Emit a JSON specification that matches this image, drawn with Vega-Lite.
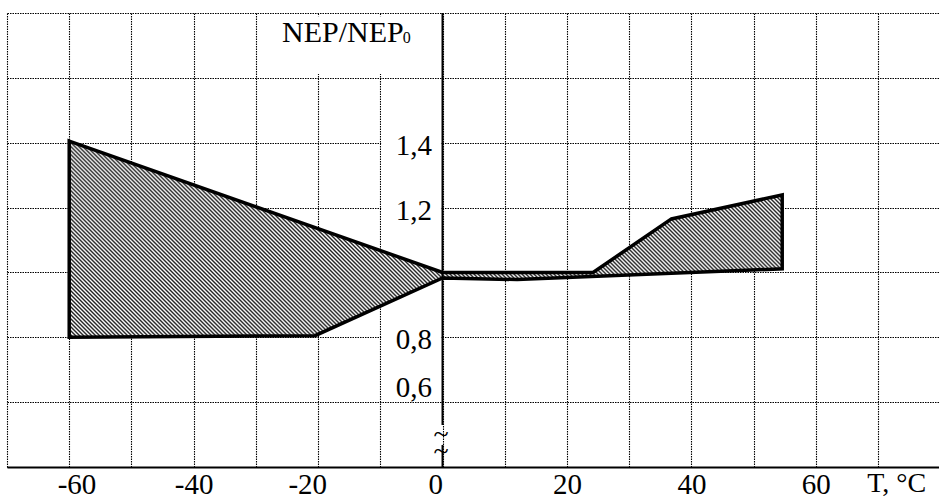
{
  "$schema": "https://vega.github.io/schema/vega-lite/v6.json",
  "width": 932,
  "height": 454,
  "autosize": {"type": "none"},
  "padding": {"left": 7, "top": 13, "right": 0, "bottom": 33},
  "background": "white",
  "config": {"view": {"stroke": null}, "font": "Liberation Serif"},
  "layer": [
    {
      "data": {"values": [{"T": -60, "R": 1.405, "i": 0}, {"T": 0, "R": 1.0, "i": 1}, {"T": 24.2, "R": 1.0, "i": 2}, {"T": 36.8, "R": 1.165, "i": 3}, {"T": 54.6, "R": 1.239, "i": 4}, {"T": 54.6, "R": 1.011, "i": 5}, {"T": 12, "R": 0.978, "i": 6}, {"T": 0, "R": 0.983, "i": 7}, {"T": -20.5, "R": 0.805, "i": 8}, {"T": -60, "R": 0.8, "i": 9}]},
      "mark": {"type": "point", "opacity": 0},
      "encoding": {
        "x": {
          "field": "T", "type": "quantitative",
          "scale": {"domain": [-70, 79.8], "nice": false, "zero": false},
          "axis": {
            "title": null,
            "values": [-70, -60, -50, -40, -30, -20, -10, 0, 10, 20, 30, 40, 50, 60, 70],
            "grid": true, "gridColor": "#000", "gridDash": [1.5, 1], "gridWidth": 1.1, "gridOpacity": 1,
            "ticks": false, "tickSize": 0,
            "domain": true, "domainColor": "#000", "domainWidth": 2,
            "labelExpr": "datum.value == -60 ? '\u200b\u00a0\u00a0-60' : datum.value == -40 ? '-40' : datum.value == -20 ? '-20\u00a0\u00a0\u00a0\u200b' : datum.value == 0 ? '0\u00a0\u00a0\u200b' : (datum.value == 20 || datum.value == 40 || datum.value == 60) ? toString(datum.value) : ''",
            "labelFont": "Liberation Serif", "labelFontSize": 29, "labelColor": "#000",
            "labelBaseline": "alphabetic", "labelPadding": 26, "labelFlush": false, "labelOverlap": false, "labelBound": false
          }
        },
        "y": {
          "field": "R", "type": "quantitative",
          "scale": {"domain": [0.4, 1.8], "nice": false, "zero": false},
          "axis": {
            "title": null,
            "values": [0.4, 0.6, 0.8, 1.0, 1.2, 1.4, 1.6, 1.8],
            "grid": true, "gridColor": "#000", "gridDash": [1.5, 1], "gridWidth": 1.1, "gridOpacity": 1,
            "labels": false, "ticks": false, "domain": false
          }
        }
      }
    },
    {
      "data": {"values": [{}]},
      "mark": {"type": "rect", "fill": "white", "stroke": null},
      "encoding": {"x": {"datum": -9.85}, "x2": {"datum": -0.25}, "y": {"datum": 0.62}, "y2": {"datum": 1.58}}
    },
    {
      "data": {"values": [{}]},
      "mark": {"type": "rect", "fill": "white", "stroke": null},
      "encoding": {"x": {"datum": -26.5}, "x2": {"datum": -0.25}, "y": {"datum": 1.612}, "y2": {"datum": 1.79}}
    },
    {
      "data": {"values": [{"T": -60, "R": 1.405, "i": 0}, {"T": 0, "R": 1.0, "i": 1}, {"T": 24.2, "R": 1.0, "i": 2}, {"T": 36.8, "R": 1.165, "i": 3}, {"T": 54.6, "R": 1.239, "i": 4}, {"T": 54.6, "R": 1.011, "i": 5}, {"T": 12, "R": 0.978, "i": 6}, {"T": 0, "R": 0.983, "i": 7}, {"T": -20.5, "R": 0.805, "i": 8}, {"T": -60, "R": 0.8, "i": 9}]},
      "mark": {
        "type": "line", "interpolate": "linear-closed", "stroke": "#000", "strokeWidth": 3.5, "strokeJoin": "miter",
        "fill": {
          "gradient": "linear", "x1": 0, "y1": 1, "x2": 1.1852, "y2": 0.6747,
          "stops": [
            {"offset": 0, "color": "#222"}, {"offset": 0.0022, "color": "#fff"}, {"offset": 0.0044, "color": "#222"}, {"offset": 0.0066, "color": "#fff"}, {"offset": 0.0088, "color": "#222"}, {"offset": 0.011, "color": "#fff"}, {"offset": 0.0132, "color": "#222"}, {"offset": 0.0154, "color": "#fff"}, {"offset": 0.0176, "color": "#222"}, {"offset": 0.0198, "color": "#fff"},
            {"offset": 0.022, "color": "#222"}, {"offset": 0.0242, "color": "#fff"}, {"offset": 0.0264, "color": "#222"}, {"offset": 0.0286, "color": "#fff"}, {"offset": 0.0308, "color": "#222"}, {"offset": 0.033, "color": "#fff"}, {"offset": 0.0352, "color": "#222"}, {"offset": 0.0374, "color": "#fff"}, {"offset": 0.0396, "color": "#222"}, {"offset": 0.0418, "color": "#fff"},
            {"offset": 0.044, "color": "#222"}, {"offset": 0.0462, "color": "#fff"}, {"offset": 0.0484, "color": "#222"}, {"offset": 0.0506, "color": "#fff"}, {"offset": 0.0528, "color": "#222"}, {"offset": 0.055, "color": "#fff"}, {"offset": 0.0572, "color": "#222"}, {"offset": 0.0594, "color": "#fff"}, {"offset": 0.0616, "color": "#222"}, {"offset": 0.0638, "color": "#fff"},
            {"offset": 0.066, "color": "#222"}, {"offset": 0.0682, "color": "#fff"}, {"offset": 0.0704, "color": "#222"}, {"offset": 0.0726, "color": "#fff"}, {"offset": 0.0748, "color": "#222"}, {"offset": 0.077, "color": "#fff"}, {"offset": 0.0792, "color": "#222"}, {"offset": 0.0814, "color": "#fff"}, {"offset": 0.0836, "color": "#222"}, {"offset": 0.0858, "color": "#fff"},
            {"offset": 0.088, "color": "#222"}, {"offset": 0.0902, "color": "#fff"}, {"offset": 0.0924, "color": "#222"}, {"offset": 0.0946, "color": "#fff"}, {"offset": 0.0968, "color": "#222"}, {"offset": 0.099, "color": "#fff"}, {"offset": 0.1012, "color": "#222"}, {"offset": 0.1034, "color": "#fff"}, {"offset": 0.1056, "color": "#222"}, {"offset": 0.1078, "color": "#fff"},
            {"offset": 0.11, "color": "#222"}, {"offset": 0.1122, "color": "#fff"}, {"offset": 0.1144, "color": "#222"}, {"offset": 0.1166, "color": "#fff"}, {"offset": 0.1188, "color": "#222"}, {"offset": 0.121, "color": "#fff"}, {"offset": 0.1232, "color": "#222"}, {"offset": 0.1254, "color": "#fff"}, {"offset": 0.1276, "color": "#222"}, {"offset": 0.1298, "color": "#fff"},
            {"offset": 0.132, "color": "#222"}, {"offset": 0.1342, "color": "#fff"}, {"offset": 0.1364, "color": "#222"}, {"offset": 0.1386, "color": "#fff"}, {"offset": 0.1408, "color": "#222"}, {"offset": 0.143, "color": "#fff"}, {"offset": 0.1452, "color": "#222"}, {"offset": 0.1474, "color": "#fff"}, {"offset": 0.1496, "color": "#222"}, {"offset": 0.1518, "color": "#fff"},
            {"offset": 0.154, "color": "#222"}, {"offset": 0.1562, "color": "#fff"}, {"offset": 0.1584, "color": "#222"}, {"offset": 0.1606, "color": "#fff"}, {"offset": 0.1628, "color": "#222"}, {"offset": 0.165, "color": "#fff"}, {"offset": 0.1672, "color": "#222"}, {"offset": 0.1694, "color": "#fff"}, {"offset": 0.1716, "color": "#222"}, {"offset": 0.1738, "color": "#fff"},
            {"offset": 0.176, "color": "#222"}, {"offset": 0.1782, "color": "#fff"}, {"offset": 0.1804, "color": "#222"}, {"offset": 0.1826, "color": "#fff"}, {"offset": 0.1848, "color": "#222"}, {"offset": 0.187, "color": "#fff"}, {"offset": 0.1892, "color": "#222"}, {"offset": 0.1914, "color": "#fff"}, {"offset": 0.1936, "color": "#222"}, {"offset": 0.1958, "color": "#fff"},
            {"offset": 0.198, "color": "#222"}, {"offset": 0.2002, "color": "#fff"}, {"offset": 0.2024, "color": "#222"}, {"offset": 0.2046, "color": "#fff"}, {"offset": 0.2068, "color": "#222"}, {"offset": 0.209, "color": "#fff"}, {"offset": 0.2112, "color": "#222"}, {"offset": 0.2134, "color": "#fff"}, {"offset": 0.2156, "color": "#222"}, {"offset": 0.2178, "color": "#fff"},
            {"offset": 0.22, "color": "#222"}, {"offset": 0.2222, "color": "#fff"}, {"offset": 0.2244, "color": "#222"}, {"offset": 0.2266, "color": "#fff"}, {"offset": 0.2288, "color": "#222"}, {"offset": 0.231, "color": "#fff"}, {"offset": 0.2332, "color": "#222"}, {"offset": 0.2354, "color": "#fff"}, {"offset": 0.2376, "color": "#222"}, {"offset": 0.2398, "color": "#fff"},
            {"offset": 0.242, "color": "#222"}, {"offset": 0.2442, "color": "#fff"}, {"offset": 0.2464, "color": "#222"}, {"offset": 0.2486, "color": "#fff"}, {"offset": 0.2508, "color": "#222"}, {"offset": 0.253, "color": "#fff"}, {"offset": 0.2552, "color": "#222"}, {"offset": 0.2574, "color": "#fff"}, {"offset": 0.2596, "color": "#222"}, {"offset": 0.2618, "color": "#fff"},
            {"offset": 0.264, "color": "#222"}, {"offset": 0.2662, "color": "#fff"}, {"offset": 0.2684, "color": "#222"}, {"offset": 0.2706, "color": "#fff"}, {"offset": 0.2728, "color": "#222"}, {"offset": 0.275, "color": "#fff"}, {"offset": 0.2772, "color": "#222"}, {"offset": 0.2794, "color": "#fff"}, {"offset": 0.2816, "color": "#222"}, {"offset": 0.2838, "color": "#fff"},
            {"offset": 0.286, "color": "#222"}, {"offset": 0.2882, "color": "#fff"}, {"offset": 0.2904, "color": "#222"}, {"offset": 0.2926, "color": "#fff"}, {"offset": 0.2948, "color": "#222"}, {"offset": 0.297, "color": "#fff"}, {"offset": 0.2992, "color": "#222"}, {"offset": 0.3014, "color": "#fff"}, {"offset": 0.3036, "color": "#222"}, {"offset": 0.3058, "color": "#fff"},
            {"offset": 0.308, "color": "#222"}, {"offset": 0.3102, "color": "#fff"}, {"offset": 0.3124, "color": "#222"}, {"offset": 0.3146, "color": "#fff"}, {"offset": 0.3168, "color": "#222"}, {"offset": 0.319, "color": "#fff"}, {"offset": 0.3212, "color": "#222"}, {"offset": 0.3234, "color": "#fff"}, {"offset": 0.3256, "color": "#222"}, {"offset": 0.3278, "color": "#fff"},
            {"offset": 0.33, "color": "#222"}, {"offset": 0.3322, "color": "#fff"}, {"offset": 0.3344, "color": "#222"}, {"offset": 0.3366, "color": "#fff"}, {"offset": 0.3388, "color": "#222"}, {"offset": 0.341, "color": "#fff"}, {"offset": 0.3432, "color": "#222"}, {"offset": 0.3454, "color": "#fff"}, {"offset": 0.3476, "color": "#222"}, {"offset": 0.3498, "color": "#fff"},
            {"offset": 0.352, "color": "#222"}, {"offset": 0.3542, "color": "#fff"}, {"offset": 0.3564, "color": "#222"}, {"offset": 0.3586, "color": "#fff"}, {"offset": 0.3608, "color": "#222"}, {"offset": 0.363, "color": "#fff"}, {"offset": 0.3652, "color": "#222"}, {"offset": 0.3674, "color": "#fff"}, {"offset": 0.3696, "color": "#222"}, {"offset": 0.3718, "color": "#fff"},
            {"offset": 0.374, "color": "#222"}, {"offset": 0.3762, "color": "#fff"}, {"offset": 0.3784, "color": "#222"}, {"offset": 0.3806, "color": "#fff"}, {"offset": 0.3828, "color": "#222"}, {"offset": 0.385, "color": "#fff"}, {"offset": 0.3872, "color": "#222"}, {"offset": 0.3894, "color": "#fff"}, {"offset": 0.3916, "color": "#222"}, {"offset": 0.3938, "color": "#fff"},
            {"offset": 0.396, "color": "#222"}, {"offset": 0.3982, "color": "#fff"}, {"offset": 0.4004, "color": "#222"}, {"offset": 0.4026, "color": "#fff"}, {"offset": 0.4048, "color": "#222"}, {"offset": 0.407, "color": "#fff"}, {"offset": 0.4092, "color": "#222"}, {"offset": 0.4114, "color": "#fff"}, {"offset": 0.4136, "color": "#222"}, {"offset": 0.4158, "color": "#fff"},
            {"offset": 0.418, "color": "#222"}, {"offset": 0.4202, "color": "#fff"}, {"offset": 0.4224, "color": "#222"}, {"offset": 0.4246, "color": "#fff"}, {"offset": 0.4268, "color": "#222"}, {"offset": 0.429, "color": "#fff"}, {"offset": 0.4312, "color": "#222"}, {"offset": 0.4334, "color": "#fff"}, {"offset": 0.4356, "color": "#222"}, {"offset": 0.4378, "color": "#fff"},
            {"offset": 0.44, "color": "#222"}, {"offset": 0.4422, "color": "#fff"}, {"offset": 0.4444, "color": "#222"}, {"offset": 0.4466, "color": "#fff"}, {"offset": 0.4488, "color": "#222"}, {"offset": 0.451, "color": "#fff"}, {"offset": 0.4532, "color": "#222"}, {"offset": 0.4554, "color": "#fff"}, {"offset": 0.4576, "color": "#222"}, {"offset": 0.4598, "color": "#fff"},
            {"offset": 0.462, "color": "#222"}, {"offset": 0.4642, "color": "#fff"}, {"offset": 0.4664, "color": "#222"}, {"offset": 0.4686, "color": "#fff"}, {"offset": 0.4708, "color": "#222"}, {"offset": 0.473, "color": "#fff"}, {"offset": 0.4752, "color": "#222"}, {"offset": 0.4774, "color": "#fff"}, {"offset": 0.4796, "color": "#222"}, {"offset": 0.4818, "color": "#fff"},
            {"offset": 0.484, "color": "#222"}, {"offset": 0.4862, "color": "#fff"}, {"offset": 0.4884, "color": "#222"}, {"offset": 0.4906, "color": "#fff"}, {"offset": 0.4928, "color": "#222"}, {"offset": 0.495, "color": "#fff"}, {"offset": 0.4972, "color": "#222"}, {"offset": 0.4994, "color": "#fff"}, {"offset": 0.5016, "color": "#222"}, {"offset": 0.5038, "color": "#fff"},
            {"offset": 0.506, "color": "#222"}, {"offset": 0.5082, "color": "#fff"}, {"offset": 0.5104, "color": "#222"}, {"offset": 0.5126, "color": "#fff"}, {"offset": 0.5148, "color": "#222"}, {"offset": 0.517, "color": "#fff"}, {"offset": 0.5192, "color": "#222"}, {"offset": 0.5214, "color": "#fff"}, {"offset": 0.5236, "color": "#222"}, {"offset": 0.5258, "color": "#fff"},
            {"offset": 0.528, "color": "#222"}, {"offset": 0.5302, "color": "#fff"}, {"offset": 0.5324, "color": "#222"}, {"offset": 0.5346, "color": "#fff"}, {"offset": 0.5368, "color": "#222"}, {"offset": 0.539, "color": "#fff"}, {"offset": 0.5412, "color": "#222"}, {"offset": 0.5434, "color": "#fff"}, {"offset": 0.5456, "color": "#222"}, {"offset": 0.5478, "color": "#fff"},
            {"offset": 0.55, "color": "#222"}, {"offset": 0.5522, "color": "#fff"}, {"offset": 0.5544, "color": "#222"}, {"offset": 0.5566, "color": "#fff"}, {"offset": 0.5588, "color": "#222"}, {"offset": 0.561, "color": "#fff"}, {"offset": 0.5632, "color": "#222"}, {"offset": 0.5654, "color": "#fff"}, {"offset": 0.5676, "color": "#222"}, {"offset": 0.5698, "color": "#fff"},
            {"offset": 0.572, "color": "#222"}, {"offset": 0.5742, "color": "#fff"}, {"offset": 0.5764, "color": "#222"}, {"offset": 0.5786, "color": "#fff"}, {"offset": 0.5808, "color": "#222"}, {"offset": 0.583, "color": "#fff"}, {"offset": 0.5852, "color": "#222"}, {"offset": 0.5874, "color": "#fff"}, {"offset": 0.5896, "color": "#222"}, {"offset": 0.5918, "color": "#fff"},
            {"offset": 0.594, "color": "#222"}, {"offset": 0.5962, "color": "#fff"}, {"offset": 0.5984, "color": "#222"}, {"offset": 0.6006, "color": "#fff"}, {"offset": 0.6028, "color": "#222"}, {"offset": 0.605, "color": "#fff"}, {"offset": 0.6072, "color": "#222"}, {"offset": 0.6094, "color": "#fff"}, {"offset": 0.6116, "color": "#222"}, {"offset": 0.6138, "color": "#fff"},
            {"offset": 0.616, "color": "#222"}, {"offset": 0.6182, "color": "#fff"}, {"offset": 0.6204, "color": "#222"}, {"offset": 0.6226, "color": "#fff"}, {"offset": 0.6248, "color": "#222"}, {"offset": 0.627, "color": "#fff"}, {"offset": 0.6292, "color": "#222"}, {"offset": 0.6314, "color": "#fff"}, {"offset": 0.6336, "color": "#222"}, {"offset": 0.6358, "color": "#fff"},
            {"offset": 0.638, "color": "#222"}, {"offset": 0.6402, "color": "#fff"}, {"offset": 0.6424, "color": "#222"}, {"offset": 0.6446, "color": "#fff"}, {"offset": 0.6468, "color": "#222"}, {"offset": 0.649, "color": "#fff"}, {"offset": 0.6512, "color": "#222"}, {"offset": 0.6534, "color": "#fff"}, {"offset": 0.6556, "color": "#222"}, {"offset": 0.6578, "color": "#fff"},
            {"offset": 0.66, "color": "#222"}, {"offset": 0.6622, "color": "#fff"}, {"offset": 0.6644, "color": "#222"}, {"offset": 0.6666, "color": "#fff"}, {"offset": 0.6688, "color": "#222"}, {"offset": 0.671, "color": "#fff"}, {"offset": 0.6732, "color": "#222"}, {"offset": 0.6754, "color": "#fff"}, {"offset": 0.6776, "color": "#222"}, {"offset": 0.6798, "color": "#fff"},
            {"offset": 0.682, "color": "#222"}, {"offset": 0.6842, "color": "#fff"}, {"offset": 0.6864, "color": "#222"}, {"offset": 0.6886, "color": "#fff"}, {"offset": 0.6908, "color": "#222"}, {"offset": 0.693, "color": "#fff"}, {"offset": 0.6952, "color": "#222"}, {"offset": 0.6974, "color": "#fff"}, {"offset": 0.6996, "color": "#222"}, {"offset": 0.7018, "color": "#fff"},
            {"offset": 0.704, "color": "#222"}, {"offset": 0.7062, "color": "#fff"}, {"offset": 0.7084, "color": "#222"}, {"offset": 0.7106, "color": "#fff"}, {"offset": 0.7128, "color": "#222"}, {"offset": 0.715, "color": "#fff"}, {"offset": 0.7172, "color": "#222"}, {"offset": 0.7194, "color": "#fff"}, {"offset": 0.7216, "color": "#222"}, {"offset": 0.7238, "color": "#fff"},
            {"offset": 0.726, "color": "#222"}, {"offset": 0.7282, "color": "#fff"}, {"offset": 0.7304, "color": "#222"}, {"offset": 0.7326, "color": "#fff"}, {"offset": 0.7348, "color": "#222"}, {"offset": 0.737, "color": "#fff"}, {"offset": 0.7392, "color": "#222"}, {"offset": 0.7414, "color": "#fff"}, {"offset": 0.7436, "color": "#222"}, {"offset": 0.7458, "color": "#fff"},
            {"offset": 0.748, "color": "#222"}, {"offset": 0.7502, "color": "#fff"}, {"offset": 0.7524, "color": "#222"}, {"offset": 0.7546, "color": "#fff"}, {"offset": 0.7568, "color": "#222"}, {"offset": 0.759, "color": "#fff"}, {"offset": 0.7612, "color": "#222"}, {"offset": 0.7634, "color": "#fff"}, {"offset": 0.7656, "color": "#222"}, {"offset": 0.7678, "color": "#fff"},
            {"offset": 0.77, "color": "#222"}, {"offset": 0.7722, "color": "#fff"}, {"offset": 0.7744, "color": "#222"}, {"offset": 0.7766, "color": "#fff"}, {"offset": 0.7788, "color": "#222"}, {"offset": 0.781, "color": "#fff"}, {"offset": 0.7832, "color": "#222"}, {"offset": 0.7854, "color": "#fff"}, {"offset": 0.7876, "color": "#222"}, {"offset": 0.7898, "color": "#fff"},
            {"offset": 0.792, "color": "#222"}, {"offset": 0.7942, "color": "#fff"}, {"offset": 0.7964, "color": "#222"}, {"offset": 0.7986, "color": "#fff"}, {"offset": 0.8008, "color": "#222"}, {"offset": 0.803, "color": "#fff"}, {"offset": 0.8052, "color": "#222"}, {"offset": 0.8074, "color": "#fff"}, {"offset": 0.8096, "color": "#222"}, {"offset": 0.8118, "color": "#fff"},
            {"offset": 0.814, "color": "#222"}, {"offset": 0.8162, "color": "#fff"}, {"offset": 0.8184, "color": "#222"}, {"offset": 0.8206, "color": "#fff"}, {"offset": 0.8228, "color": "#222"}, {"offset": 0.825, "color": "#fff"}, {"offset": 0.8272, "color": "#222"}, {"offset": 0.8294, "color": "#fff"}, {"offset": 0.8316, "color": "#222"}, {"offset": 0.8338, "color": "#fff"},
            {"offset": 0.836, "color": "#222"}, {"offset": 0.8382, "color": "#fff"}, {"offset": 0.8404, "color": "#222"}, {"offset": 0.8426, "color": "#fff"}, {"offset": 0.8448, "color": "#222"}, {"offset": 0.847, "color": "#fff"}, {"offset": 0.8492, "color": "#222"}, {"offset": 0.8514, "color": "#fff"}, {"offset": 0.8536, "color": "#222"}, {"offset": 0.8558, "color": "#fff"},
            {"offset": 0.858, "color": "#222"}, {"offset": 0.8602, "color": "#fff"}, {"offset": 0.8624, "color": "#222"}, {"offset": 0.8646, "color": "#fff"}, {"offset": 0.8668, "color": "#222"}, {"offset": 0.869, "color": "#fff"}, {"offset": 0.8712, "color": "#222"}, {"offset": 0.8734, "color": "#fff"}, {"offset": 0.8756, "color": "#222"}, {"offset": 0.8778, "color": "#fff"},
            {"offset": 0.88, "color": "#222"}, {"offset": 0.8822, "color": "#fff"}, {"offset": 0.8844, "color": "#222"}, {"offset": 0.8866, "color": "#fff"}, {"offset": 0.8888, "color": "#222"}, {"offset": 0.891, "color": "#fff"}, {"offset": 0.8932, "color": "#222"}, {"offset": 0.8954, "color": "#fff"}, {"offset": 0.8976, "color": "#222"}, {"offset": 0.8998, "color": "#fff"},
            {"offset": 0.902, "color": "#222"}, {"offset": 0.9042, "color": "#fff"}, {"offset": 0.9064, "color": "#222"}, {"offset": 0.9086, "color": "#fff"}, {"offset": 0.9108, "color": "#222"}, {"offset": 0.913, "color": "#fff"}, {"offset": 0.9152, "color": "#222"}, {"offset": 0.9174, "color": "#fff"}, {"offset": 0.9196, "color": "#222"}, {"offset": 0.9218, "color": "#fff"},
            {"offset": 0.924, "color": "#222"}, {"offset": 0.9262, "color": "#fff"}, {"offset": 0.9284, "color": "#222"}, {"offset": 0.9306, "color": "#fff"}, {"offset": 0.9328, "color": "#222"}, {"offset": 0.935, "color": "#fff"}, {"offset": 0.9372, "color": "#222"}, {"offset": 0.9394, "color": "#fff"}, {"offset": 0.9416, "color": "#222"}, {"offset": 0.9438, "color": "#fff"},
            {"offset": 0.946, "color": "#222"}, {"offset": 0.9482, "color": "#fff"}, {"offset": 0.9504, "color": "#222"}, {"offset": 0.9526, "color": "#fff"}, {"offset": 0.9548, "color": "#222"}, {"offset": 0.957, "color": "#fff"}, {"offset": 0.9592, "color": "#222"}, {"offset": 0.9614, "color": "#fff"}, {"offset": 0.9636, "color": "#222"}, {"offset": 0.9658, "color": "#fff"},
            {"offset": 0.968, "color": "#222"}, {"offset": 0.9702, "color": "#fff"}, {"offset": 0.9724, "color": "#222"}, {"offset": 0.9746, "color": "#fff"}, {"offset": 0.9768, "color": "#222"}, {"offset": 0.979, "color": "#fff"}, {"offset": 0.9812, "color": "#222"}, {"offset": 0.9834, "color": "#fff"}, {"offset": 0.9856, "color": "#222"}, {"offset": 0.9878, "color": "#fff"},
            {"offset": 0.99, "color": "#222"}, {"offset": 0.9922, "color": "#fff"}, {"offset": 0.9944, "color": "#222"}, {"offset": 0.9966, "color": "#fff"}, {"offset": 0.9988, "color": "#222"}, {"offset": 1, "color": "#fff"}
          ]
        }
      },
      "encoding": {
        "x": {"field": "T", "type": "quantitative"},
        "y": {"field": "R", "type": "quantitative"},
        "order": {"field": "i", "type": "quantitative"}
      }
    },
    {
      "data": {"values": [{}]},
      "mark": {"type": "rule", "stroke": "#000", "strokeWidth": 2},
      "encoding": {"x": {"datum": 0}, "y": {"datum": 1.8}, "y2": {"datum": 0.5295}}
    },
    {
      "data": {"values": [{}]},
      "mark": {"type": "rule", "stroke": "#000", "strokeWidth": 2},
      "encoding": {"x": {"datum": 0}, "y": {"datum": 0.468}, "y2": {"datum": 0.4}}
    },
    {
      "data": {"values": [{"R": 0.4985, "t": "~\n~"}]},
      "mark": {"type": "text", "fontSize": 28, "font": "Liberation Serif", "align": "center", "baseline": "middle", "lineBreak": "\n", "lineHeight": 17, "dx": -1.5, "color": "#000"},
      "encoding": {"x": {"datum": 0}, "y": {"field": "R", "type": "quantitative"}, "text": {"field": "t"}}
    },
    {
      "data": {"values": [{"R": 1.4, "t": "1,4"}, {"R": 1.2, "t": "1,2"}, {"R": 0.8, "t": "0,8"}]},
      "mark": {"type": "text", "fontSize": 29, "font": "Liberation Serif", "align": "right", "baseline": "alphabetic", "dx": -10.5, "dy": 12, "color": "#000"},
      "encoding": {"x": {"datum": 0}, "y": {"field": "R", "type": "quantitative"}, "text": {"field": "t"}}
    },
    {
      "data": {"values": [{"R": 0.6, "t": "0,6"}]},
      "mark": {"type": "text", "fontSize": 29, "font": "Liberation Serif", "align": "right", "baseline": "alphabetic", "dx": -10.5, "dy": -5, "color": "#000"},
      "encoding": {"x": {"datum": 0}, "y": {"field": "R", "type": "quantitative"}, "text": {"field": "t"}}
    },
    {
      "data": {"values": [{"t": "NEP/NEP"}]},
      "mark": {"type": "text", "fontSize": 30, "font": "Liberation Serif", "align": "left", "baseline": "alphabetic", "color": "#000"},
      "encoding": {"x": {"datum": -25.8}, "y": {"datum": 1.7106}, "text": {"field": "t"}}
    },
    {
      "data": {"values": [{"t": "0"}]},
      "mark": {"type": "text", "fontSize": 16, "font": "Liberation Serif", "align": "left", "baseline": "alphabetic", "color": "#000"},
      "encoding": {"x": {"datum": -6.4}, "y": {"datum": 1.7075}, "text": {"field": "t"}}
    },
    {
      "data": {"values": [{"t": "T, °C"}]},
      "mark": {"type": "text", "fontSize": 28, "font": "Liberation Serif", "align": "center", "baseline": "alphabetic", "dy": 25, "color": "#000"},
      "encoding": {"x": {"datum": 73}, "y": {"datum": 0.4}, "text": {"field": "t"}}
    }
  ]
}
